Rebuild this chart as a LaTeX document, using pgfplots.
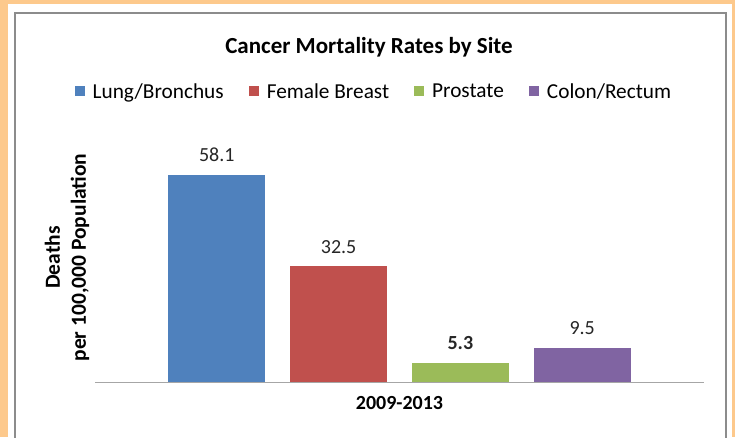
\documentclass[border=0pt]{standalone}
\usepackage{fontspec}
\setmainfont{Carlito}
\usepackage{pgfplots}
\pgfplotsset{compat=1.18}
\definecolor{bgorange}{HTML}{FDC98C}
\definecolor{cblue}{HTML}{4F81BD}
\definecolor{cred}{HTML}{C0504D}
\definecolor{cgreen}{HTML}{9BBB59}
\definecolor{cpurple}{HTML}{8064A2}
\definecolor{frameg}{HTML}{8C8C8C}
\definecolor{axisg}{HTML}{A6A6A6}
\begin{document}
\begin{tikzpicture}[x=1pt,y=1pt]
\useasboundingbox (0,0) rectangle (735,437);
\fill[bgorange] (0,0) rectangle (735,437);
\fill[white] (8,0) rectangle (732,433);
\begin{scope}
\clip (0,0) rectangle (735,437);
\draw[frameg, line width=1.5pt] (15,-10) rectangle (726,424);
\end{scope}
\begin{axis}[
  at={(95pt,55pt)}, anchor=south west,
  width=609pt, height=249pt, scale only axis,
  ymin=0, ymax=70, xmin=0.5, xmax=1.5,
  enlargelimits=false,
  axis lines*=left,
  x axis line style={draw=axisg, line width=1pt, -},
  y axis line style={draw=none},
  xtick={1}, xticklabels={2009-2013}, ytick=\empty,
  major tick length=0pt,
  x tick label style={font=\fontsize{20}{24}\selectfont\bfseries, anchor=north, inner sep=0pt, yshift=-14pt},
  ylabel={Deaths\\per 100,000 Population},
  every axis y label/.style={at={(axis description cs:-0.046,0.5)}, rotate=90, anchor=center, align=center, font=\fontsize{21.5}{26}\selectfont\bfseries},
  title={Cancer Mortality Rates by Site},
  title style={at={(axis description cs:0.4499,1.321)}, anchor=center, font=\fontsize{23}{27}\selectfont\bfseries},
  ybar=24.8pt, bar width=97pt,
  /pgf/number format/assume math mode=true,
  /pgf/number format/fixed, /pgf/number format/precision=1,
  nodes near coords,
  every node near coord/.append style={font=\fontsize{20}{24}\selectfont, anchor=south, inner sep=0pt, yshift=13pt, color=black!85},
  legend columns=-1,
  legend style={draw=none, fill=none, font=\fontsize{21.3}{25}\selectfont,
    at={(axis description cs:0.458,1.165)}, anchor=center,
    /tikz/every even column/.append style={column sep=23pt},
    nodes={inner sep=2pt}},
  legend image code/.code={\fill[#1] (0pt,-4pt) rectangle (10pt,6pt); \path (16pt,0pt);},
]
\addplot[fill=cblue, draw=none] coordinates {(1,58.1)};
\addlegendentry{Lung/Bronchus}
\addplot[fill=cred, draw=none] coordinates {(1,32.5)};
\addlegendentry{Female Breast}
\addplot[fill=cgreen, draw=none, every node near coord/.append style={font=\fontsize{20}{24}\selectfont\bfseries}] coordinates {(1,5.3)};
\addlegendentry{Prostate}
\addplot[fill=cpurple, draw=none] coordinates {(1,9.5)};
\addlegendentry{Colon/Rectum}
\end{axis}
\end{tikzpicture}
\end{document}
